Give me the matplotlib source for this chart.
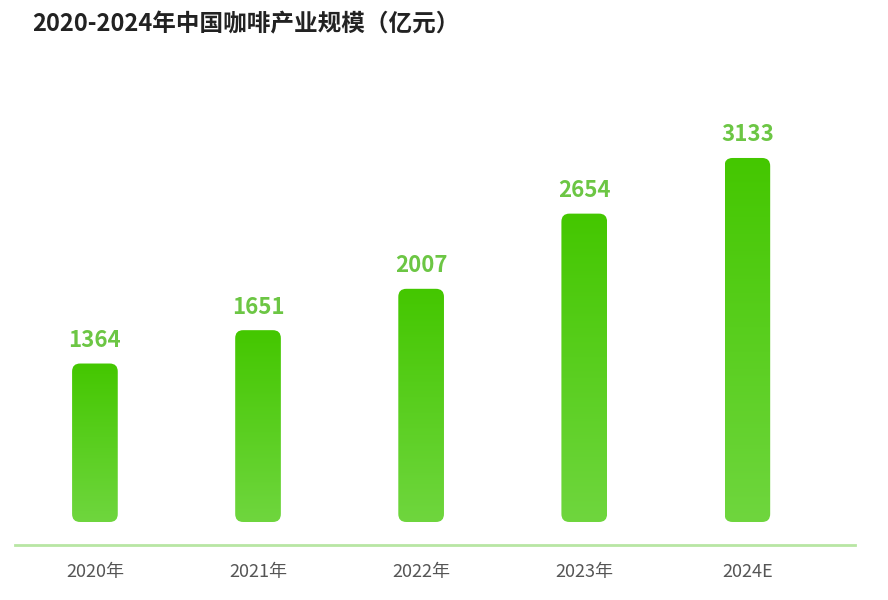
import numpy as np
import matplotlib.pyplot as plt
from matplotlib.patches import FancyBboxPatch
from matplotlib.colors import LinearSegmentedColormap

plt.rcParams['font.family'] = ['Noto Sans CJK SC', 'DejaVu Sans']

years = ["2020年", "2021年", "2022年", "2023年", "2024E"]
values = [1364, 1651, 2007, 2654, 3133]

fig = plt.figure(figsize=(8.88, 6), dpi=100)
ax = fig.add_axes([15 / 888, 55 / 600, 840 / 888, 445 / 600])
ax.set_xlim(-0.49, 4.66)
ax.set_ylim(-198, 3632)

bar_w = 0.28
px_x = 163.0
px_y = 364 / 3133
aspect = (1 / px_y) / (1 / px_x)
cmap = LinearSegmentedColormap.from_list("g", ["#6fd63e", "#44c700"])
grad = np.linspace(0, 1, 256).reshape(-1, 1)

for i, v in enumerate(values):
    x0 = i - bar_w / 2
    patch = FancyBboxPatch((x0, 0), bar_w, v,
                           boxstyle="round,pad=0,rounding_size=%f" % (8 / px_x),
                           mutation_aspect=aspect, fc="none", ec="none")
    ax.add_patch(patch)
    im = ax.imshow(grad, cmap=cmap, origin="lower", aspect="auto",
                   extent=[x0, x0 + bar_w, 0, v], zorder=2)
    im.set_clip_path(patch)
    ax.text(i, v + 100, str(v), ha="center", va="bottom", fontsize=16,
            fontweight="bold", color="#6cc644")

ax.set_xticks(range(len(years)))
ax.set_xticklabels(years, fontsize=13, color="#555555")
ax.tick_params(axis="x", length=0, pad=13)
ax.set_yticks([])
for s in ["top", "right", "left"]:
    ax.spines[s].set_visible(False)
ax.spines["bottom"].set_color("#b8e6a3")
ax.spines["bottom"].set_linewidth(2)

fig.text(32 / 888, 1 - 24 / 600, "2020-2024年中国咖啡产业规模（亿元）",
         fontsize=17, fontweight="bold", color="#222222", va="center")

fig.savefig("out.png", dpi=100)
